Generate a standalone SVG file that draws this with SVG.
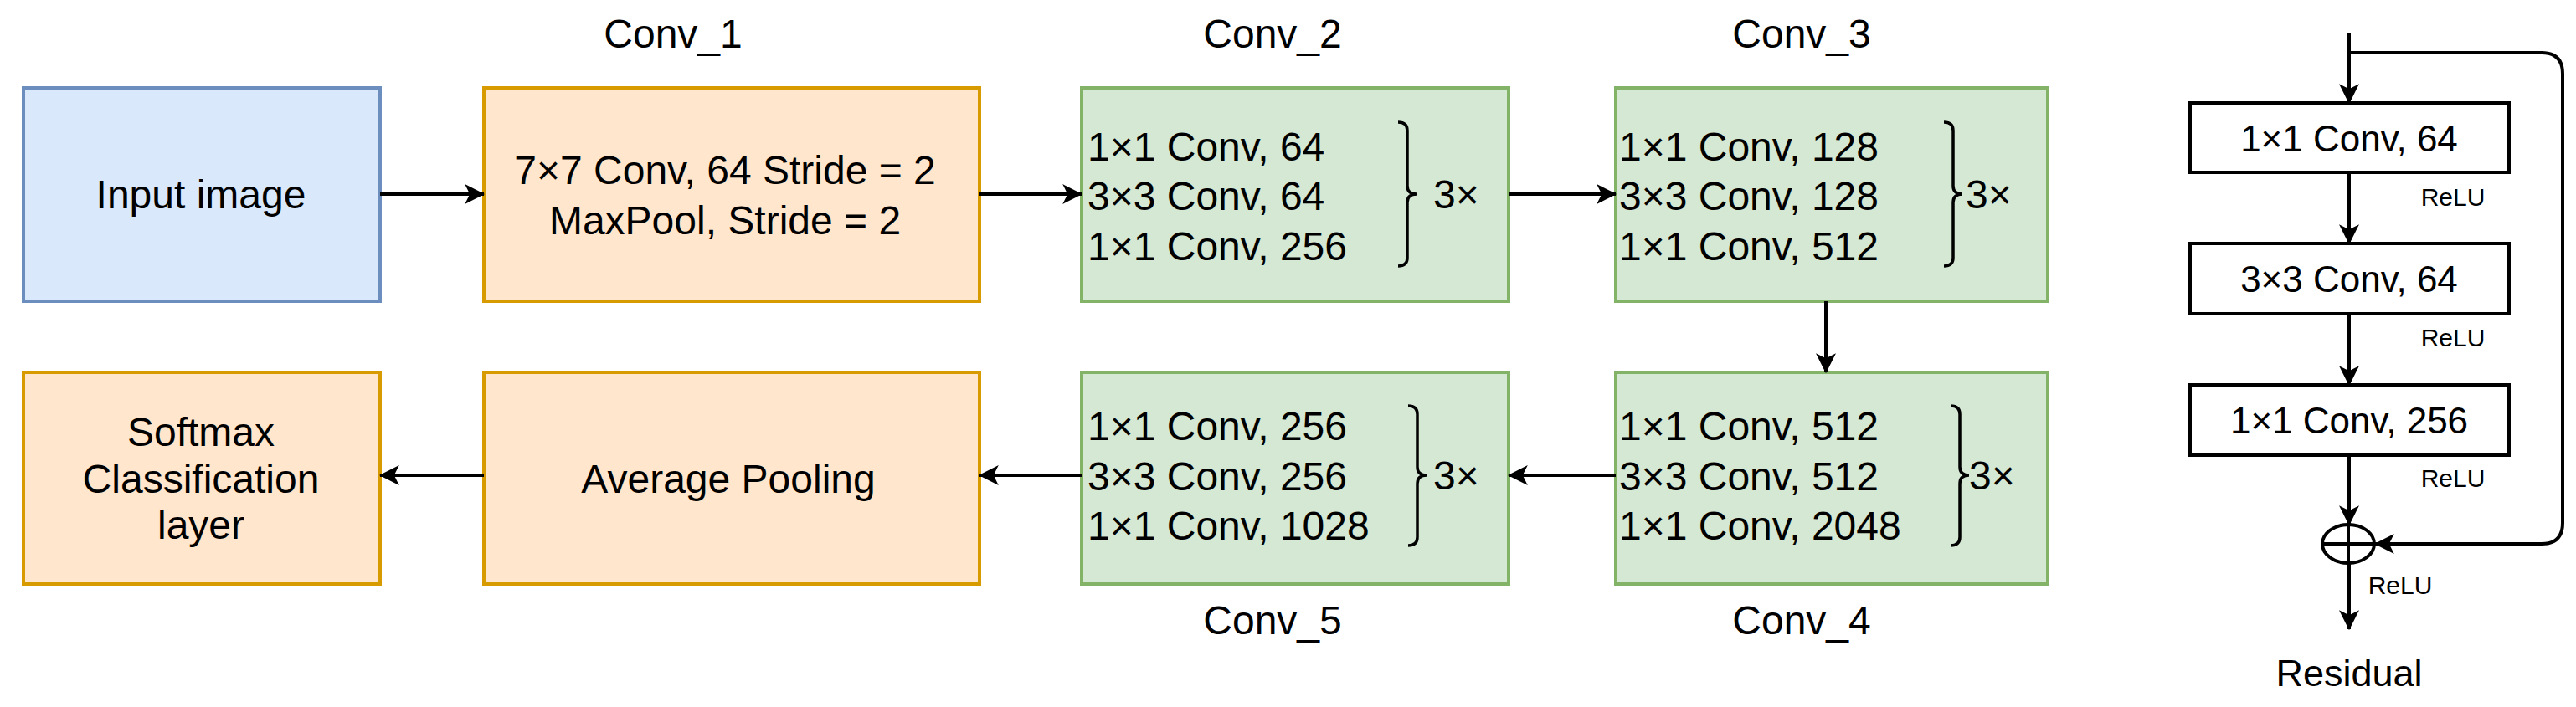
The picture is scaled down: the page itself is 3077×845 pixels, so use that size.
<svg xmlns="http://www.w3.org/2000/svg" width="3077" height="845" viewBox="0 0 3077 845">
<defs>
<marker id="ah" viewBox="0 0 20 20" refX="19" refY="10" markerWidth="6" markerHeight="6" markerUnits="strokeWidth" orient="auto">
<path d="M0,0 L20,10 L0,20 L5,10 Z" fill="#000"/>
</marker>
<style>
text{font-family:"Liberation Sans","Noto Sans CJK SC",sans-serif;fill:#000}
.t{font-size:48px}
.c{text-anchor:middle}
.blue{fill:#dae8fc;stroke:#6c8ebf;stroke-width:4}
.orange{fill:#ffe6cc;stroke:#d79b00;stroke-width:4}
.green{fill:#d5e8d4;stroke:#82b366;stroke-width:4}
.wb{fill:#fff;stroke:#000;stroke-width:4}
.br{fill:none;stroke:#000;stroke-width:3.5}
.cn{fill:none;stroke:#000;stroke-width:4;marker-end:url(#ah)}
.ln{fill:none;stroke:#000;stroke-width:4}
.relu{font-size:30px}
</style>
</defs>
<rect width="3077" height="845" fill="#fff"/>

<g id="input">
<rect class="blue" x="28" y="105" width="426" height="255"/>
<text class="t c" x="240" y="249">Input image</text>
</g>
<g id="conv1">
<text class="t c" x="804" y="57">Conv_1</text>
<rect class="orange" x="578" y="105" width="592" height="255"/>
<text class="t c" x="866" y="220">7×7 Conv, 64 Stride = 2</text>
<text class="t c" x="866" y="280">MaxPool, Stride = 2</text>
</g>
<g id="conv2">
<text class="t c" x="1520" y="57">Conv_2</text>
<rect class="green" x="1292" y="105" width="510" height="255"/>
<text class="t" x="1299" y="192">1×1 Conv, 64</text>
<text class="t" x="1299" y="251">3×3 Conv, 64</text>
<text class="t" x="1299" y="311">1×1 Conv, 256</text>
<path class="br" d="M1670,146 Q1681,146 1681,156 V222 Q1681,232 1692,232 Q1681,232 1681,242 V308 Q1681,318 1670,318"/>
<text class="t" x="1712" y="249">3×</text>
</g>
<g id="conv3">
<text class="t c" x="2152" y="57">Conv_3</text>
<rect class="green" x="1930" y="105" width="516" height="255"/>
<text class="t" x="1934" y="192">1×1 Conv, 128</text>
<text class="t" x="1934" y="251">3×3 Conv, 128</text>
<text class="t" x="1934" y="311">1×1 Conv, 512</text>
<path class="br" d="M2322,146 Q2333,146 2333,156 V222 Q2333,232 2344,232 Q2333,232 2333,242 V308 Q2333,318 2322,318"/>
<text class="t" x="2348" y="249">3×</text>
</g>
<g id="conv4">
<text class="t c" x="2152" y="758">Conv_4</text>
<rect class="green" x="1930" y="445" width="516" height="253"/>
<text class="t" x="1934" y="526">1×1 Conv, 512</text>
<text class="t" x="1934" y="586">3×3 Conv, 512</text>
<text class="t" x="1934" y="645">1×1 Conv, 2048</text>
<path class="br" d="M2330,485 Q2341,485 2341,495 V558 Q2341,568 2352,568 Q2341,568 2341,578 V642 Q2341,652 2330,652"/>
<text class="t" x="2352" y="585">3×</text>
</g>
<g id="conv5">
<text class="t c" x="1520" y="758">Conv_5</text>
<rect class="green" x="1292" y="445" width="510" height="253"/>
<text class="t" x="1299" y="526">1×1 Conv, 256</text>
<text class="t" x="1299" y="586">3×3 Conv, 256</text>
<text class="t" x="1299" y="645">1×1 Conv, 1028</text>
<path class="br" d="M1682,485 Q1693,485 1693,495 V558 Q1693,568 1704,568 Q1693,568 1693,578 V642 Q1693,652 1682,652"/>
<text class="t" x="1712" y="585">3×</text>
</g>
<g id="avgpool">
<rect class="orange" x="578" y="445" width="592" height="253"/>
<text class="t c" x="870" y="589">Average Pooling</text>
</g>
<g id="softmax">
<rect class="orange" x="28" y="445" width="426" height="253"/>
<text class="t c" x="240" y="533">Softmax</text>
<text class="t c" x="240" y="589">Classification</text>
<text class="t c" x="240" y="644">layer</text>
</g>

<g id="res1">
<rect class="wb" x="2616" y="123" width="381" height="83"/>
<text class="t c" x="2806" y="181" style="font-size:44px">1×1 Conv, 64</text>
</g>
<g id="res2">
<rect class="wb" x="2616" y="291" width="381" height="84"/>
<text class="t c" x="2806" y="349" style="font-size:44px">3×3 Conv, 64</text>
</g>
<g id="res3">
<rect class="wb" x="2616" y="460" width="381" height="84"/>
<text class="t c" x="2806" y="518" style="font-size:44px">1×1 Conv, 256</text>
</g>
<g id="add">
<ellipse cx="2805" cy="650" rx="31" ry="23" fill="#fff" stroke="#000" stroke-width="4"/>
<path class="ln" d="M2805,627 V673 M2774,650 H2836"/>
</g>
<g id="labels">
<text class="relu c" x="2930" y="246">ReLU</text>
<text class="relu c" x="2930" y="414">ReLU</text>
<text class="relu c" x="2930" y="582">ReLU</text>
<text class="relu c" x="2867" y="710">ReLU</text>
<text class="t c" x="2806" y="820" style="font-size:45px">Residual</text>
</g>

<g id="connectors">
<path class="cn" d="M454,232 H578"/>
<path class="cn" d="M1170,232 H1292"/>
<path class="cn" d="M1802,232 H1930"/>
<path class="cn" d="M2181,360 V445"/>
<path class="cn" d="M1930,568 H1802"/>
<path class="cn" d="M1292,568 H1170"/>
<path class="cn" d="M578,568 H454"/>
<path class="cn" d="M2806,39 V123"/>
<path class="cn" d="M2806,206 V291"/>
<path class="cn" d="M2806,375 V460"/>
<path class="cn" d="M2806,544 V627"/>
<path class="cn" d="M2806,673 V752"/>
<path class="cn" d="M2806,63 H3036 Q3061,63 3061,88 V625 Q3061,650 3036,650 H2837"/>
</g>
</svg>
